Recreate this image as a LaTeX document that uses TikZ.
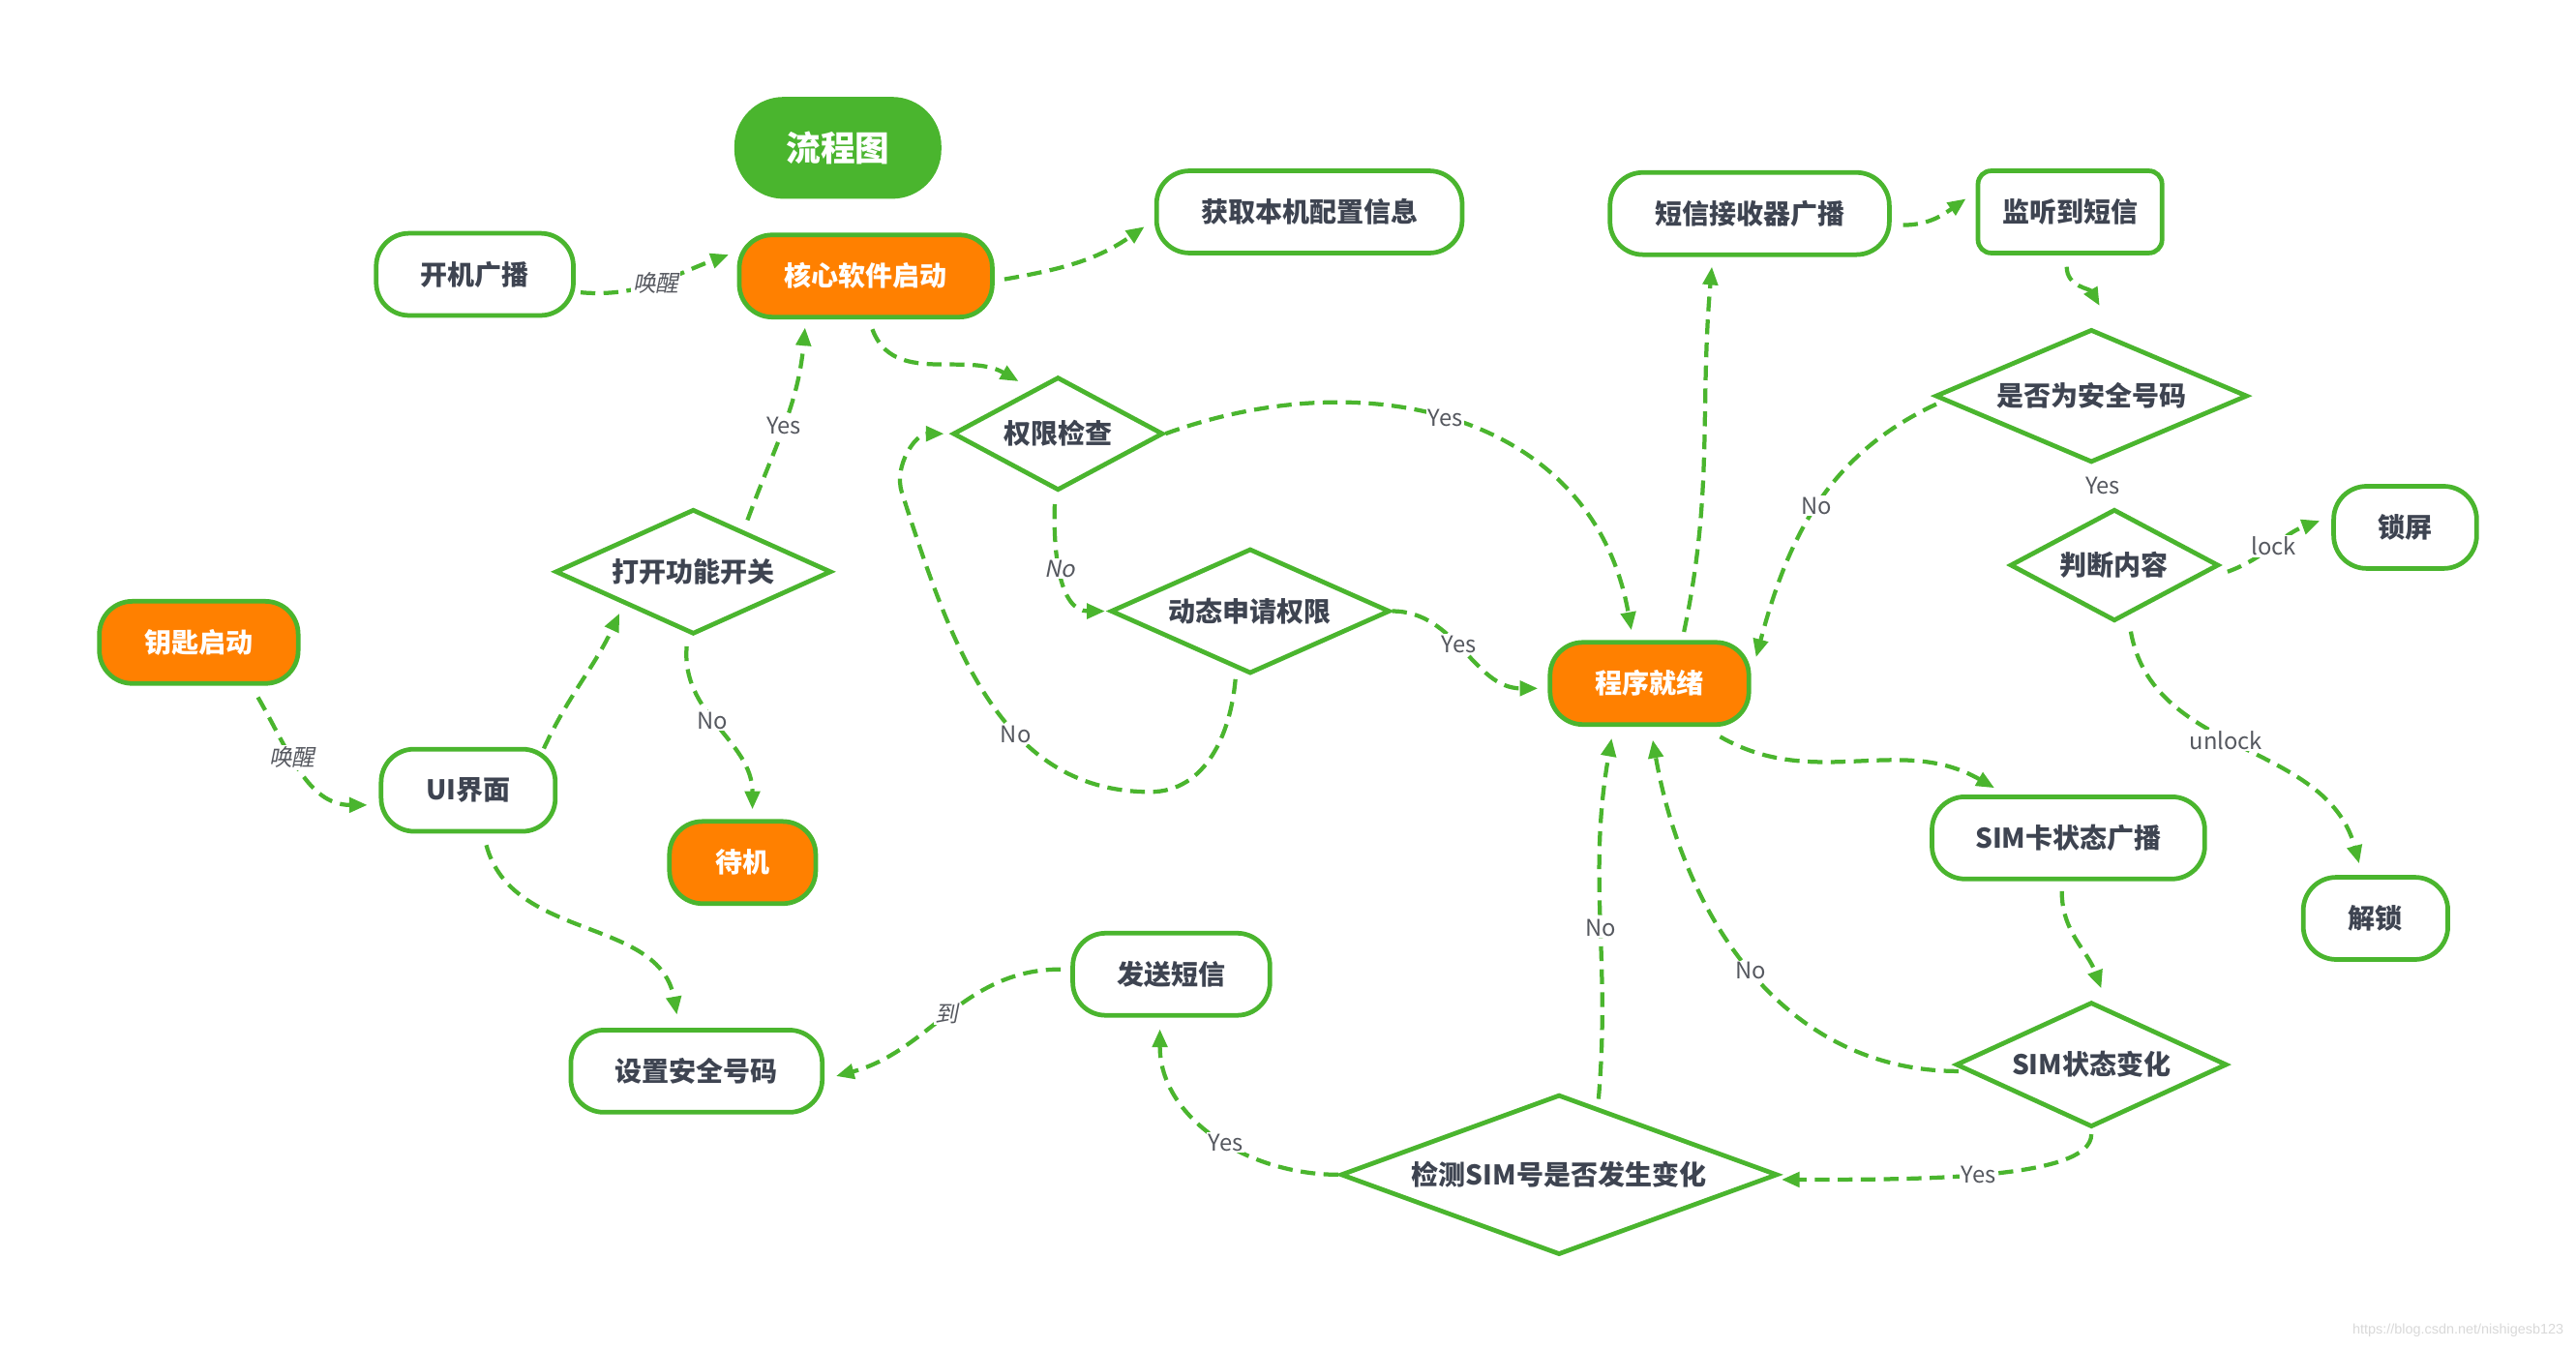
\documentclass[tikz,border=0pt]{standalone}
\usepackage{fontspec}
\setmainfont{Noto Sans CJK SC}
\newfontfamily\slantfont[FakeSlant=0.2]{Noto Sans CJK SC}
\newfontfamily\wmfont{Liberation Sans}
\usetikzlibrary{shapes.geometric,arrows.meta}
\definecolor{G}{HTML}{4AB52E}
\definecolor{OR}{HTML}{FF8000}
\definecolor{TX}{HTML}{3E4451}
\definecolor{LB}{HTML}{55585F}
\tikzset{
  box/.style={draw=G, line width=2.8pt, rounded corners=20pt, fill=white, text=TX,
    font=\bfseries\fontsize{16.5}{18}\selectfont, minimum height=50pt, inner sep=0pt},
  obox/.style={box, fill=OR, text=white},
  dia/.style={draw=G, line width=2.8pt, shape=diamond, fill=white, text=TX, inner sep=0pt,
    font=\bfseries\fontsize{16.5}{18}\selectfont, shape aspect=2.2},
  titlebox/.style={fill=G, rounded corners=30pt, minimum width=126pt, minimum height=62pt,
    text=white, font=\bfseries\fontsize{21}{24}\selectfont},
  conn/.style={draw=G, line width=2.5pt, dash pattern=on 9pt off 5pt,
    -{Triangle[length=11pt,width=9pt]}},
  lbl/.style={fill=white, text=LB, font=\fontsize{14}{15}\selectfont, inner sep=1pt},
  lbli/.style={lbl, font=\slantfont\fontsize{14}{15}\selectfont},
}
\begin{document}
\begin{tikzpicture}[x=1pt,y=1pt]
\useasboundingbox (0,0) rectangle (1568,-821);
\fill[white] (0,0) rectangle (1568,-821);

\node[titlebox] (t) at (510,-90) {流程图};
\node[box, minimum width=120pt] (kj) at (289,-167) {开机广播};
\node[obox, minimum width=154pt] (hx) at (527,-168) {核心软件启动};
\node[box, minimum width=186pt] (hq) at (797,-129) {获取本机配置信息};
\node[box, minimum width=170pt] (dx) at (1065,-130) {短信接收器广播};
\node[box, rounded corners=8pt, minimum width=112pt] (jt) at (1260,-129) {监听到短信};
\node[dia, minimum width=190pt, minimum height=81pt] (sa) at (1273,-241) {是否为安全号码};
\node[dia, minimum width=127pt, minimum height=68pt] (pd) at (1287,-344) {判断内容};
\node[box, minimum width=87pt] (sp) at (1464,-321) {锁屏};
\node[box, minimum width=88pt] (js) at (1446,-559) {解锁};
\node[dia, minimum width=128pt, minimum height=69pt] (qx) at (644,-264) {权限检查};
\node[dia, minimum width=170pt, minimum height=76pt] (dt) at (761,-372) {动态申请权限};
\node[obox, minimum width=121pt] (cx) at (1004,-416) {程序就绪};
\node[dia, minimum width=168pt, minimum height=76pt] (dk) at (422,-348) {打开功能开关};
\node[obox, minimum width=121pt] (ys) at (121,-391) {钥匙启动};
\node[box, minimum width=106pt] (ui) at (285,-481) {UI界面};
\node[obox, minimum width=89pt] (dj) at (452,-525) {待机};
\node[box, minimum width=166pt] (sg) at (1259,-510) {SIM卡状态广播};
\node[dia, minimum width=165pt, minimum height=76pt] (sb) at (1273,-648) {SIM状态变化};
\node[box, minimum width=120pt] (fs) at (713,-593) {发送短信};
\node[box, minimum width=153pt] (sz) at (424,-652) {设置安全号码};
\node[dia, minimum width=266pt, minimum height=94pt] (jc) at (949,-715) {检测SIM号是否发生变化};

\node[font=\wmfont\fontsize{8.5}{9}\selectfont, text=black!15, anchor=east] (wm) at (1564,-810) {https://blog.csdn.net/nishigesb123};

% connectors
\draw[conn] ([shift={(3pt,-11pt)}]kj.east) to[out=-5,in=200] node[lbli]{唤醒} ([shift={(-5pt,13pt)}]hx.west);
\draw[conn] ([shift={(6pt,-2pt)}]hx.east) to[out=10,in=215] ([shift={(-6pt,-9pt)}]hq.west);
\draw[conn] ([shift={(4pt,-6pt)}]hx.south) to[out=-70,in=150] ([shift={(-24pt,-4pt)}]qx.north);
\draw[conn] (qx.east) to[out=20,in=100,looseness=1.1] node[lbl,pos=0.47]{Yes} ([shift={(-11pt,6pt)}]cx.north);
\draw[conn] ([shift={(-2pt,-7pt)}]qx.south) to[out=-92,in=180] node[lbli,pos=0.45]{No} ([xshift=-2pt]dt.west);
\draw[conn] (dt.east) to[out=0,in=180] node[lbl,pos=0.45]{Yes} ([shift={(-6pt,-3pt)}]cx.west);
\coordinate (lp1) at (700,-482);
\coordinate (lp2) at (549,-300);
\draw[conn] ([shift={(-9pt,-2pt)}]dt.south) to[out=-95,in=0] (lp1) to[out=180,in=-72] node[lbl,pos=0.38]{No} (lp2) to[out=108,in=180] ([xshift=-4pt]qx.west);
\draw[conn] ([shift={(33pt,-8pt)}]dk.north) to[out=70,in=-95] node[lbl]{Yes} ([shift={(-37pt,-5pt)}]hx.south);
\draw[conn] ([shift={(-4pt,-6pt)}]dk.south) to[out=-95,in=90] node[lbl,pos=0.45]{No} ([shift={(6pt,6pt)}]dj.north);
\draw[conn] ([shift={(36pt,-7pt)}]ys.south) to[out=-60,in=180] node[lbli,pos=0.4]{唤醒} ([shift={(-7pt,-9pt)}]ui.west);
\draw[conn] ([shift={(46pt,-1pt)}]ui.north) to[out=65,in=-115] ([shift={(-45pt,14pt)}]dk.south);
\draw[conn] ([shift={(11pt,-7pt)}]ui.south) to[out=-75,in=100] ([shift={(-12pt,8pt)}]sz.north);
\draw[conn] ([shift={(-6pt,3pt)}]fs.west) to[out=180,in=15] node[lbli]{到} ([shift={(7pt,-3pt)}]sz.east);
\draw[conn] (jc.west) to[out=180,in=-90] node[lbl,pos=0.45]{Yes} ([shift={(-7pt,-7pt)}]fs.south);
\draw[conn] ([shift={(24pt,-4pt)}]jc.north) to[out=85,in=-100] node[lbl,pos=0.47]{No} ([shift={(-23pt,-7pt)}]cx.south);
\draw[conn] ([shift={(3pt,-4pt)}]sb.west) to[out=180,in=-80] node[lbl,pos=0.5]{No} ([shift={(2pt,-8pt)}]cx.south);
\draw[conn] ([yshift=-3pt]sb.south) .. controls +(0,-28) and +(80,0) .. node[lbl,pos=0.52]{Yes} ([shift={(1pt,-3pt)}]jc.east);
\draw[conn] ([shift={(43pt,-6pt)}]cx.south) to[out=-30,in=150] ([shift={(-45pt,4pt)}]sg.north);
\draw[conn] ([shift={(-4pt,-6pt)}]sg.south) to[out=-90,in=110] ([shift={(6pt,7pt)}]sb.north);
\draw[conn] ([shift={(21pt,5pt)}]cx.north) to[out=78,in=-95] ([shift={(-23pt,-6pt)}]dx.south);
\draw[conn] ([shift={(7pt,-7pt)}]dx.east) to[out=0,in=215] ([shift={(-6pt,8pt)}]jt.west);
\draw[conn] ([shift={(-2pt,-7pt)}]jt.south) to[out=-90,in=120] ([shift={(5pt,13pt)}]sa.north);
\draw[conn] ([shift={(2pt,-5pt)}]sa.west) to[out=205,in=75] node[lbl,pos=0.5]{No} ([shift={(3pt,16pt)}]cx.east);
\path (sa.south) -- node[lbl]{Yes} (pd.north);
\draw[conn] ([shift={(4pt,-4pt)}]pd.east) to[out=20,in=200] node[lbl]{lock} ([shift={(-7pt,4pt)}]sp.west);
\draw[conn] ([shift={(10pt,-5pt)}]pd.south) to[out=-80,in=105] node[lbl,pos=0.45]{unlock} ([shift={(-10pt,7pt)}]js.north);
\end{tikzpicture}
\end{document}
